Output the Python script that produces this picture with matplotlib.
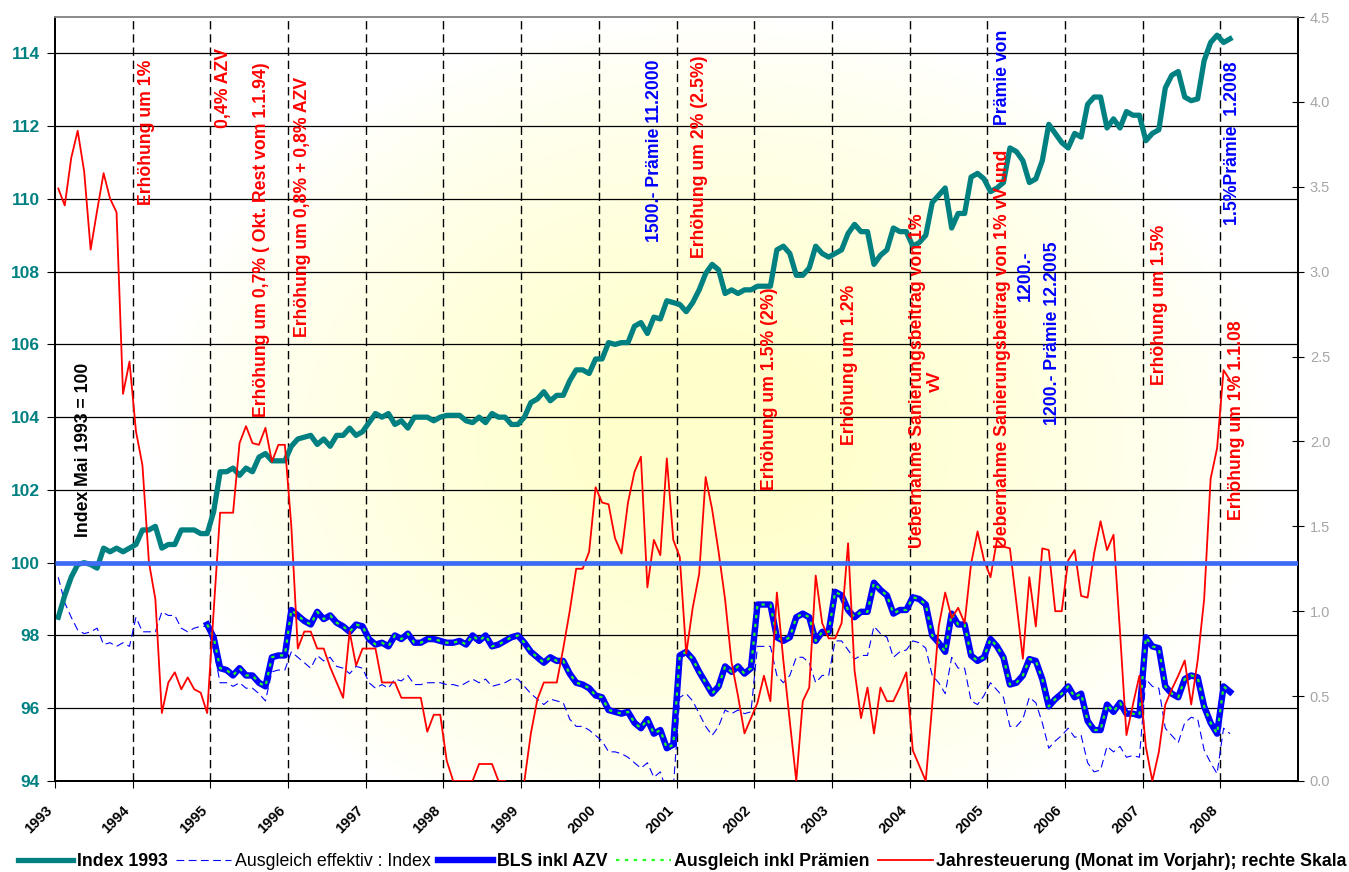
import numpy as np
import matplotlib.pyplot as plt
from matplotlib.lines import Line2D

plt.rcParams['font.family'] = ['Liberation Sans', 'DejaVu Sans']

# monthly series, Jan 1993 .. Feb 2008
first_year = 1993

index_1993 = [
    98.5, 99.1, 99.6, 99.95, 100.0, 99.95, 99.85, 100.4, 100.3, 100.4, 100.3, 100.4,
    100.5, 100.9, 100.9, 101.0, 100.4, 100.5, 100.5, 100.9, 100.9, 100.9, 100.8, 100.8,
    101.4, 102.5, 102.5, 102.6, 102.4, 102.6, 102.5, 102.9, 103.0, 102.8, 102.8, 102.8,
    103.2, 103.4, 103.45, 103.5, 103.25, 103.4, 103.2, 103.5, 103.5, 103.7, 103.5, 103.6,
    103.85, 104.1, 104.0, 104.1, 103.8, 103.9, 103.7, 104.0, 104.0, 104.0, 103.9, 104.0,
    104.05, 104.05, 104.05, 103.9, 103.85, 104.0, 103.85, 104.1, 104.0, 104.0, 103.8, 103.8,
    104.0, 104.4, 104.5, 104.7, 104.45, 104.6, 104.6, 105.0, 105.3, 105.3, 105.2, 105.6,
    105.6, 106.05, 106.0, 106.05, 106.05, 106.5, 106.6, 106.3, 106.75, 106.7, 107.2, 107.15,
    107.1, 106.9, 107.15, 107.5, 107.95, 108.2, 108.05, 107.4, 107.5, 107.4, 107.5, 107.5,
    107.6, 107.6, 107.6, 108.6, 108.7, 108.5, 107.9, 107.9, 108.1, 108.7, 108.5, 108.4,
    108.5, 108.6, 109.05, 109.3, 109.1, 109.1, 108.2, 108.45, 108.6, 109.2, 109.1, 109.1,
    108.7, 108.8, 109.0, 109.9, 110.1, 110.3, 109.2, 109.6, 109.6, 110.6, 110.7, 110.55,
    110.2, 110.3, 110.45, 111.4, 111.3, 111.05, 110.45, 110.55, 111.05, 112.05, 111.8, 111.55,
    111.4, 111.8, 111.7, 112.6, 112.8, 112.8, 111.95, 112.2, 111.95, 112.4, 112.3, 112.3,
    111.6, 111.8, 111.9, 113.05, 113.4, 113.5, 112.8, 112.7, 112.75, 113.8, 114.3, 114.5,
    114.3, 114.4,
]

# BLS starts Dec 1994 (month 23)
bls_start = 23
bls_inkl_azv = [
    98.3,
    97.95, 97.1, 97.05, 96.9, 97.1, 96.9, 96.9, 96.7, 96.6, 97.4, 97.45, 97.45,
    98.7, 98.55, 98.4, 98.3, 98.65, 98.45, 98.55, 98.35, 98.25, 98.1, 98.3, 98.25,
    97.9, 97.75, 97.8, 97.7, 98.0, 97.9, 98.05, 97.8, 97.8, 97.9, 97.9, 97.85,
    97.8, 97.8, 97.85, 97.75, 98.0, 97.85, 98.0, 97.7, 97.75, 97.85, 97.95, 98.0,
    97.8, 97.55, 97.4, 97.25, 97.4, 97.3, 97.3, 96.95, 96.7, 96.65, 96.55, 96.35,
    96.3, 95.95, 95.9, 95.85, 95.9, 95.6, 95.45, 95.7, 95.3, 95.4, 94.9, 95.0,
    97.45, 97.55, 97.35, 97.0, 96.7, 96.4, 96.6, 97.15, 97.0, 97.15, 96.95, 97.1,
    98.85, 98.85, 98.85, 97.95, 97.85, 97.95, 98.5, 98.6, 98.5, 97.85, 98.1, 98.1,
    99.2, 99.1, 98.7, 98.5, 98.65, 98.65, 99.45, 99.25, 99.1, 98.6, 98.7, 98.7,
    99.05, 99.0, 98.85, 98.0, 97.8, 97.55, 98.6, 98.3, 98.3, 97.45, 97.3, 97.4,
    97.9, 97.7, 97.4, 96.65, 96.7, 96.9, 97.35, 97.3, 96.8, 96.05, 96.25, 96.4,
    96.6, 96.3, 96.4, 95.65, 95.4, 95.4, 96.1, 95.9, 96.15, 95.85, 95.85, 95.8,
    97.95, 97.7, 97.65, 96.6, 96.4, 96.3, 96.8, 96.9, 96.85, 96.05, 95.6, 95.3,
    96.6, 96.45,
]
ausgleich_praemien = list(bls_inkl_azv)

ausgleich_effektiv = [
    99.6, 98.9, 98.5, 98.15, 98.05, 98.1, 98.2, 97.75, 97.8, 97.7, 97.8, 97.7,
    98.5, 98.1, 98.1, 98.1, 98.65, 98.55, 98.55, 98.2, 98.1, 98.2, 98.25, 98.25,
    97.6, 96.7, 96.7, 96.6, 96.7, 96.55, 96.55, 96.4, 96.2, 97.0, 97.05, 97.05,
    97.55, 97.4, 97.25, 97.1, 97.45, 97.3, 97.4, 97.15, 97.1, 96.95, 97.15, 97.1,
    96.7, 96.55, 96.65, 96.55, 96.8, 96.75, 96.9, 96.65, 96.65, 96.7, 96.7, 96.7,
    96.65, 96.65, 96.6, 96.7, 96.8, 96.7, 96.8, 96.6, 96.65, 96.7, 96.8, 96.8,
    96.6, 96.4, 96.25, 96.1, 96.25, 96.2, 96.15, 95.7, 95.5, 95.5, 95.4, 95.25,
    95.1, 94.8, 94.8, 94.75, 94.65, 94.5, 94.35, 94.5, 94.1, 94.25, 93.7, 93.8,
    96.3, 96.4, 96.2, 95.85, 95.5, 95.25, 95.5, 95.95, 95.85, 95.95, 95.85, 95.9,
    97.7, 97.7, 97.7, 96.9, 96.7, 96.9, 97.4, 97.4, 97.25, 96.7, 96.9, 96.9,
    97.85, 97.85, 97.6, 97.35, 97.45, 97.45, 98.25, 98.05, 97.95, 97.4, 97.55, 97.6,
    97.85, 97.8, 97.65, 96.9, 96.7, 96.4, 97.4, 97.1, 97.1, 96.2, 96.1, 96.35,
    96.7, 96.5, 96.3, 95.5, 95.5, 95.7, 96.3, 96.15, 95.6, 94.9, 95.1, 95.25,
    95.45, 95.2, 95.25, 94.5, 94.25, 94.3, 94.95, 94.8, 94.95, 94.65, 94.7, 94.65,
    96.8, 96.6, 96.55, 95.45, 95.25, 95.05, 95.6, 95.75, 95.7, 94.85, 94.5, 94.2,
    95.45, 95.3,
]

# right axis, percent
jahresteuerung = [
    3.49, 3.39, 3.67, 3.83, 3.59, 3.13, 3.36, 3.58, 3.43, 3.35, 2.28, 2.47,
    2.06, 1.86, 1.29, 1.07, 0.40, 0.58, 0.64, 0.54, 0.61, 0.54, 0.52, 0.40,
    1.0, 1.58, 1.58, 1.58, 1.99, 2.09, 1.99, 1.98, 2.08, 1.88, 1.98, 1.98,
    1.5, 0.78, 0.88, 0.88, 0.78, 0.78, 0.67, 0.58, 0.49, 0.88, 0.68, 0.78,
    0.78, 0.78, 0.58, 0.58, 0.58, 0.49, 0.49, 0.49, 0.49, 0.29, 0.39, 0.39,
    0.12, 0.0, 0.0, 0.0, 0.0, 0.1, 0.1, 0.1, 0.0, 0.0, -0.1, -0.1,
    0.0, 0.28, 0.48, 0.58, 0.58, 0.58, 0.78, 1.0, 1.25, 1.25, 1.35, 1.73,
    1.64, 1.63, 1.43, 1.34, 1.64, 1.82, 1.91, 1.14, 1.42, 1.33, 1.90, 1.42,
    1.32, 0.75, 1.02, 1.22, 1.79, 1.60, 1.35, 1.07, 0.7, 0.5, 0.28, 0.37,
    0.46, 0.62, 0.47, 1.11, 0.71, 0.35, 0.0, 0.47, 0.55, 1.21, 0.93, 0.84,
    0.84, 0.93, 1.40, 0.65, 0.37, 0.55, 0.28, 0.55, 0.47, 0.47, 0.55, 0.64,
    0.18, 0.09, 0.0, 0.45, 0.91, 1.11, 0.96, 1.02, 0.93, 1.28, 1.47, 1.30,
    1.20, 1.42, 1.38, 1.37, 1.05, 0.72, 1.20, 0.91, 1.37, 1.36, 1.0, 1.0,
    1.30, 1.36, 1.09, 1.08, 1.34, 1.53, 1.36, 1.45, 0.88, 0.27, 0.45, 0.62,
    0.2, 0.0, 0.17, 0.45, 0.54, 0.62, 0.71, 0.45, 0.71, 1.07, 1.78, 1.96,
    2.42, 2.36,
]

basis_level = 100
year_ticks = list(range(1993, 2009))
left_ticks = list(range(94, 115, 2))
right_ticks = [0.0, 0.5, 1.0, 1.5, 2.0, 2.5, 3.0, 3.5, 4.0, 4.5]

RED, BLUE, BLACK = '#FF0000', '#0000FF', '#000000'
TEAL, GREEN = '#008080', '#22FF22'
# (year, left value at text bottom, text, colour)
notes = [
    (1994.18, 109.82, "Erhöhung um 1%", RED),
    (1995.17, 111.94, "0,4% AZV", RED),
    (1995.66, 104.0, "Erhöhung um 0,7% ( Okt. Rest vom 1.1.94)", RED),
    (1996.19, 106.2, "Erhöhung um 0,8% + 0,8% AZV", RED),
    (1993.36, 100.7, "Index Mai 1993 = 100", BLACK),
    (2000.72, 108.81, "1500.- Prämie 11.2000", BLUE),
    (2001.30, 108.37, "Erhöhung um 2% (2.5%)", RED),
    (2002.20, 101.99, "Erhöhung um 1.5% (2%)", RED),
    (2003.23, 103.23, "Erhöhung um 1.2%", RED),
    (2005.84, 103.78, "1200.- Prämie 12.2005", BLUE),
    (2007.22, 104.88, "Erhöhung um 1.5%", RED),
    (2008.16, 109.27, "1.5%Prämie  1.2008", BLUE),
    (2008.21, 101.17, "Erhöhung um 1% 1.1.08", RED),
]

n = len(index_1993)
t = first_year + (np.arange(n) + 0.5) / 12
bls = np.full(n, np.nan)
bls[bls_start:] = bls_inkl_azv
praem = np.full(n, np.nan)
praem[bls_start:] = ausgleich_praemien

fig = plt.figure(figsize=(13.49, 8.72), dpi=100)
ax = fig.add_axes([0.0408, 0.1044, 0.9214, 0.8761])
ax2 = ax.twinx()

# yellowish radial background
gy, gx = np.mgrid[0:1:300j, 0:1:400j]
d = np.sqrt(((gx - 0.53) / 0.45) ** 2 + ((gy - 0.45) / 0.55) ** 2)
w = np.clip(1.25 * (1 - d), 0, 1) ** 0.8
white = np.array([1.0, 1.0, 1.0])
yellow = np.array([1.0, 1.0, 0.80])
rgb = white[None, None, :] * (1 - w[..., None]) + yellow[None, None, :] * w[..., None]
ax.imshow(rgb, extent=(0, 1, 0, 1), transform=ax.transAxes, aspect='auto',
          origin='lower', zorder=0, interpolation='bilinear')

ax.set_xlim(1993, 2009)
ax.set_ylim(94, 115)
ax2.set_ylim(0, 4.5)

for lv in left_ticks[1:]:
    ax.axhline(lv, color='black', lw=0.9, zorder=1)
for yr in year_ticks[1:]:
    ax.axvline(yr, color='black', lw=1.0, ls=(0, (6, 3.5)), zorder=1)

ax.plot(t, ausgleich_effektiv, color=BLUE, lw=0.8, ls=(0, (7, 4)), zorder=3)
ax.plot(t, index_1993, color=TEAL, lw=3.8, zorder=4, solid_joinstyle='round')
ax.plot(t, bls, color=BLUE, lw=4.6, zorder=5, solid_joinstyle='round')
ax.plot(t, praem, color=GREEN, lw=1.6, ls=(0, (1.5, 2.5)), zorder=6)

ax2.plot(t, jahresteuerung, color=RED, lw=1.3, zorder=3)
# base line 100 drawn over the red series
ax2.plot([1993, 2009], [basis_level, basis_level], transform=ax.transData,
         color='#3D6BF5', lw=3.4, zorder=4, solid_capstyle='butt')

ax.set_xticks(year_ticks)
ax.set_xticklabels([str(y) for y in year_ticks], rotation=45, ha='right', va='top',
                   fontsize=10.5, fontweight='bold')
ax.tick_params(axis='x', direction='out', length=5, pad=11)
ax.set_yticks(left_ticks)
ax.set_yticklabels([str(v) for v in left_ticks], fontsize=12.5, fontweight='bold',
                   color=TEAL)
ax.tick_params(axis='y', direction='out', length=6, pad=5)

ax2.set_yticks(right_ticks)
ax2.set_yticklabels([f"{v:.1f}" for v in right_ticks], fontsize=10.5, color='#A6A6A6')
ax2.tick_params(axis='y', direction='inout', length=9, pad=4, color='black')

for a in (ax, ax2):
    for s in a.spines.values():
        s.set_linewidth(1.3)
    a.spines['top'].set_color('#8C8C8C')
ax2.spines['right'].set_color('black')

txt_kw = dict(rotation=90, ha='center', va='bottom', fontsize=12.7,
              fontweight='bold', transform=ax.transData, zorder=10)
for x, y, s, c in notes:
    ax2.text(x, y, s, color=c, **txt_kw)

# two-line notes
ax2.text(2004.22, 100.4, "Uebernahme Sanierungsbeitrag von 1%\nvV", color=RED,
         multialignment='center', linespacing=1.05, **txt_kw)
ax2.text(2005.20, 100.4, "Uebernahme Sanierungsbeitrag von 1% vV und", color=RED, **txt_kw)
ax2.text(2005.20, 112.02, "Prämie von", color=BLUE, **txt_kw)
ax2.text(2005.49, 107.9, "1200.-", color=BLUE, rotation=90, ha='center', va='center',
         fontsize=12.7, fontweight='bold', transform=ax.transData, zorder=10)

handles = [
    Line2D([], [], color=TEAL, lw=3.8),
    Line2D([], [], color=BLUE, lw=0.8, ls=(0, (7, 4))),
    Line2D([], [], color=BLUE, lw=4.6),
    Line2D([], [], color=GREEN, lw=1.6, ls=(0, (1.5, 2.5))),
    Line2D([], [], color=RED, lw=1.3),
]
labels = ["Index 1993", "Ausgleich effektiv : Index", "BLS inkl AZV",
          "Ausgleich inkl Prämien", "Jahresteuerung (Monat im Vorjahr); rechte Skala"]
leg = fig.legend(handles, labels, ncol=5, loc='center', bbox_to_anchor=(0.506, 0.012),
                 frameon=False, fontsize=12.8, handlelength=3.1, handletextpad=0.2,
                 columnspacing=0.45, borderaxespad=0, borderpad=0)
for i, tx in enumerate(leg.get_texts()):
    tx.set_fontweight('normal' if i == 1 else 'bold')

fig.savefig('out.png', dpi=100)
